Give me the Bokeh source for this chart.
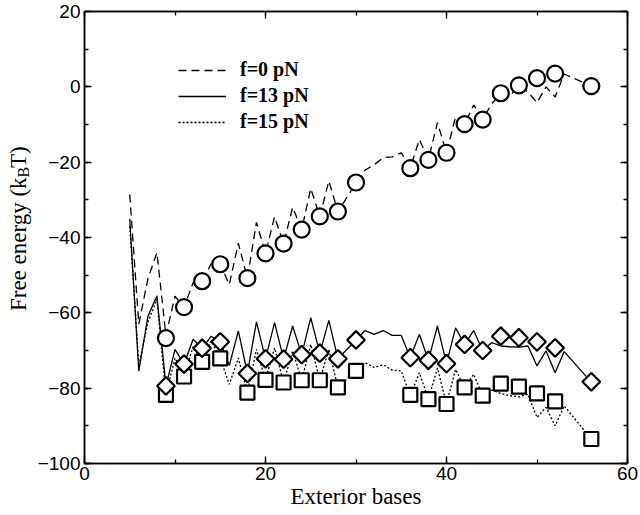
from math import pi
from bokeh.plotting import figure
from bokeh.layouts import row
from bokeh.core.properties import value
from bokeh.models import (Range1d, LinearAxis, SingleIntervalTicker, Legend,
                          LegendItem, CustomLabelingPolicy)
from bokeh.embed import file_html
from bokeh.resources import INLINE

# ---------------- data ----------------
line_x = [5, 6, 7, 8, 9, 10, 11, 12, 13, 14, 15, 16, 17, 18, 19, 20, 21, 22,
          23, 24, 25, 26, 27, 28, 30, 31, 32, 33, 34, 35, 36, 37, 38, 39, 40,
          41, 42, 43, 44, 45, 46, 47, 48, 49, 50, 51, 52, 53, 56]

f0_line = [-28.6, -63.0, -51.0, -44.0, -66.0, -55.6, -58.5, -52.0, -51.6, -47.0,
           -47.1, -52.5, -41.5, -50.8, -36.0, -44.2, -34.5, -41.6, -32.0, -37.9,
           -27.0, -34.4, -25.0, -33.1, -25.5, -22.1, -20.7, -18.8, -18.6, -17.5,
           -21.5, -14.0, -19.3, -9.5, -17.5, -8.0, -9.9, -4.8, -8.6, -4.5,
           -1.8, -2.5, 0.4, -1.4, -4.2, 0.0, -2.7, 3.4, 0.2]

f13_line = [-35.0, -75.5, -61.0, -55.5, -79.4, -69.7, -73.6, -67.0, -69.4, -66.2,
            -67.7, -74.0, -64.8, -76.1, -62.4, -72.2, -62.6, -72.3, -63.5, -71.1,
            -61.3, -70.7, -62.0, -72.2, -67.2, -64.7, -65.7, -64.7, -66.0, -66.0,
            -71.9, -65.7, -72.6, -63.5, -73.5, -64.0, -68.4, -64.7, -70.0, -67.9,
            -68.8, -69.0, -69.1, -68.8, -74.1, -70.1, -75.9, -70.3, -78.4]

f15_line = [-37.0, -74.0, -62.5, -56.5, -81.8, -72.0, -76.9, -69.0, -73.0, -67.5,
            -72.1, -79.0, -72.0, -81.2, -69.7, -77.8, -69.3, -78.5, -70.1, -77.9,
            -68.4, -77.9, -69.7, -79.8, -75.4, -73.2, -74.5, -73.8, -75.2, -75.4,
            -82.0, -75.9, -82.9, -74.7, -84.2, -75.0, -79.8, -76.3, -82.0, -80.5,
            -81.4, -82.0, -82.3, -81.6, -87.8, -85.1, -90.0, -84.7, -93.5]

marker_x = [9, 11, 13, 15, 18, 20, 22, 24, 26, 28, 30, 36, 38, 40, 42, 44, 46,
            48, 50, 52, 56]
circle_y = [-66.7, -58.5, -51.6, -47.1, -50.8, -44.2, -41.6, -37.9, -34.4, -33.1,
            -25.4, -21.6, -19.4, -17.5, -9.9, -8.7, -1.7, 0.4, 2.3, 3.5, 0.2]
diamond_y = [-79.4, -73.6, -69.4, -67.7, -76.1, -72.2, -72.3, -71.1, -70.7, -72.2,
             -67.2, -71.9, -72.6, -73.5, -68.4, -70.0, -66.2, -66.6, -67.7, -69.3,
             -78.3]
square_y = [-81.8, -76.9, -73.0, -72.1, -81.2, -77.8, -78.5, -77.9, -77.9, -79.8,
            -75.4, -81.8, -82.9, -84.2, -79.8, -82.0, -78.8, -79.6, -81.4, -83.5,
            -93.5]

legend_labels = ["f=0 pN", "f=13 pN", "f=15 pN"]
x_ticks = [0, 20, 40, 60]
x_tick_labels = ["0", "20", "40", "60"]
y_ticks = [-100, -80, -60, -40, -20, 0, 20]
y_tick_labels = ["\u2212100", "\u221280", "\u221260", "\u221240", "\u221220", "0", "20"]
x_title = "Exterior bases"
y_title_parts = ["Free energy (k", "B", "T)"]

SANS = "Liberation Sans"
SERIF = "Liberation Serif"
W, H = 640, 515
TITLE_W = 34
BORDER_BOTTOM = 52

# ---------------- main figure ----------------
p = figure(width=W - TITLE_W, height=H, output_backend="svg",
           toolbar_location=None, x_range=Range1d(0, 60),
           y_range=Range1d(-100, 20), min_border_left=82 - TITLE_W,
           min_border_right=13, min_border_top=11,
           min_border_bottom=BORDER_BOTTOM,
           x_axis_type=None, y_axis_type=None, title=None)
p.grid.visible = False
p.outline_line_color = "black"
p.outline_line_width = 1.5
p.background_fill_color = "white"
p.border_fill_color = "white"

hide_labels = CustomLabelingPolicy(code="""
    for (const i of Array.from(indices)) { indices.unset(i) }
    return indices
""")


def style_axis(ax, show_labels):
    ax.ticker = SingleIntervalTicker(interval=20, num_minor_ticks=2)
    ax.axis_line_color = "black"
    ax.axis_line_width = 1.5
    ax.major_tick_in = 7
    ax.major_tick_out = 0
    ax.minor_tick_in = 4
    ax.minor_tick_out = 0
    ax.major_tick_line_width = 1.3
    ax.minor_tick_line_width = 1.3
    if show_labels:
        ax.major_label_text_font = SANS
        ax.major_label_text_font_size = "19px"
        ax.major_label_text_color = "black"
        ax.major_label_standoff = 4
    else:
        ax.major_label_policy = hide_labels
        ax.major_label_text_font_size = "0px"
        ax.major_label_standoff = 0


xb = LinearAxis()
style_axis(xb, True)
xb.major_label_standoff = 3
xb.major_label_overrides = dict(zip(x_ticks, x_tick_labels))
xb.axis_label = x_title
xb.axis_label_text_font = SERIF
xb.axis_label_text_font_size = "23px"
xb.axis_label_text_font_style = "normal"
xb.axis_label_text_color = "black"
xb.axis_label_standoff = 1
p.add_layout(xb, "below")

yl = LinearAxis()
style_axis(yl, True)
yl.major_label_overrides = dict(zip(y_ticks, y_tick_labels))
p.add_layout(yl, "left")

xt = LinearAxis()
style_axis(xt, False)
p.add_layout(xt, "above")
yr = LinearAxis()
style_axis(yr, False)
p.add_layout(yr, "right")

# ---------------- lines ----------------
r0 = p.line(line_x, f0_line, line_color="black", line_width=1.3, line_dash="8 5")
r13 = p.line(line_x, f13_line, line_color="black", line_width=1.3)
r15 = p.line(line_x, f15_line, line_color="black", line_width=1.3, line_dash="2 2")

# ---------------- markers ----------------
p.scatter(marker_x, square_y, marker="square", size=14, fill_color="white",
          line_color="black", line_width=2.2)
p.scatter(marker_x, diamond_y, marker="square", angle=pi / 4, size=12.5,
          fill_color="white", line_color="black", line_width=2.2)
p.scatter(marker_x, circle_y, marker="circle", size=16, fill_color="white",
          line_color="black", line_width=2.2)

# ---------------- legend ----------------
legend = Legend(items=[LegendItem(label=legend_labels[0], renderers=[r0]),
                       LegendItem(label=legend_labels[1], renderers=[r13]),
                       LegendItem(label=legend_labels[2], renderers=[r15])],
                location=(94, H - BORDER_BOTTOM - 133), orientation="vertical",
                glyph_width=48, glyph_height=20, label_height=20,
                label_standoff=14, spacing=3, padding=0, margin=0,
                label_text_font=SERIF, label_text_font_size="20px",
                label_text_font_style="bold", label_text_color="black",
                border_line_alpha=0, background_fill_alpha=0)
p.add_layout(legend)

# ---------------- y axis title strip (pixel coordinates, y up) ----------------
t = figure(width=TITLE_W, height=H, output_backend="svg", toolbar_location=None,
           x_range=Range1d(0, TITLE_W), y_range=Range1d(0, H), min_border=0,
           x_axis_type=None, y_axis_type=None, title=None)
t.grid.visible = False
t.outline_line_color = None
t.background_fill_color = "white"
t.border_fill_color = "white"

base = 18          # baseline position across the strip
joint = H - 189    # where "(k" ends and the subscript begins
sub_len = 10.7     # length of the subscript "B" at 16px
t.text(x=[base], y=[joint], text=[y_title_parts[0]], angle=pi / 2,
       text_font=value(SERIF), text_font_size="23px", text_align="right",
       text_baseline="alphabetic", text_color="black")
t.text(x=[base + 5], y=[joint], text=[y_title_parts[1]], angle=pi / 2,
       text_font=value(SERIF), text_font_size="16px", text_align="left",
       text_baseline="alphabetic", text_color="black")
t.text(x=[base], y=[joint + sub_len], text=[y_title_parts[2]], angle=pi / 2,
       text_font=value(SERIF), text_font_size="23px", text_align="left",
       text_baseline="alphabetic", text_color="black")

layout = row(t, p, spacing=0)
open("out.html", "w").write(file_html(layout, INLINE))
